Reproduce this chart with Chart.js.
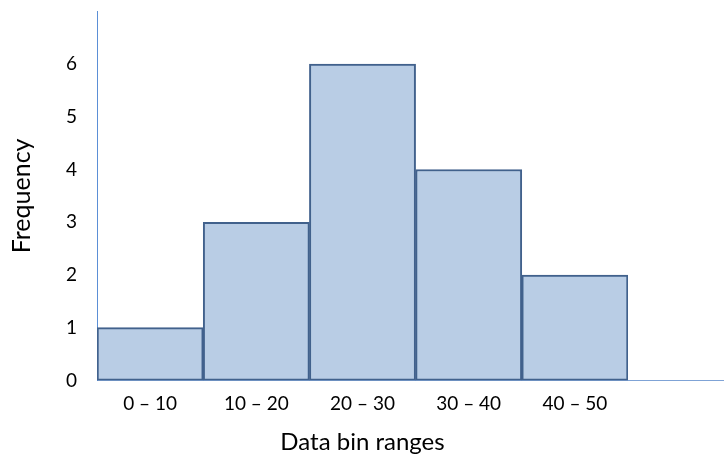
<!DOCTYPE html>
<html>
<head>
<meta charset="utf-8">
<script src="https://cdn.jsdelivr.net/npm/chart.js@4.4.1/dist/chart.umd.min.js"></script>
<style>
  html, body { margin: 0; padding: 0; background: #fff; overflow: hidden; }
  #wrap { width: 724px; height: 479px; margin-top: -20px; }
</style>
</head>
<body>
<div id="wrap"><canvas id="hist"></canvas></div>
<script>
// histogram data
const binLabels = ['0 – 10', '10 – 20', '20 – 30', '30 – 40', '40 – 50'];
const binCenters = [5, 15, 25, 35, 45];
const frequencies = [1, 3, 6, 4, 2];
const yTicks = [0, 1, 2, 3, 4, 5, 6];

const font = 'Lato, "Open Sans", sans-serif';
const axisBlue = '#7FA3D6';

// the horizontal axis runs on past the last bin, to the edge of the picture
const axisExtension = {
  id: 'axisExtension',
  afterDraw(chart) {
    const { ctx, chartArea, scales } = chart;
    const y = Math.round(scales.y.getPixelForValue(0)) + 0.5;
    ctx.save();
    ctx.strokeStyle = axisBlue;
    ctx.lineWidth = 1;
    ctx.beginPath();
    ctx.moveTo(chartArea.right, y);
    ctx.lineTo(chart.width, y);
    ctx.stroke();
    ctx.restore();
  },
};

const ctx = document.getElementById('hist').getContext('2d');
new Chart(ctx, {
  type: 'bar',
  data: {
    datasets: [
      {
        data: binCenters.map((x, i) => ({ x: x, y: frequencies[i] })),
        backgroundColor: '#B9CDE5',
        borderColor: '#41618C',
        borderWidth: 2,
        borderSkipped: false,
        barPercentage: 1,
        categoryPercentage: 1,
      },
    ],
  },
  options: {
    responsive: true,
    maintainAspectRatio: false,
    animation: false,
    layout: { padding: { top: 0, right: 96, left: 3, bottom: 0 } },
    plugins: { legend: { display: false }, tooltip: { enabled: false } },
    scales: {
      x: {
        type: 'linear',
        min: 0,
        max: 50,
        offset: false,
        grid: { display: false, drawTicks: false },
        border: { color: axisBlue, width: 1 },
        afterBuildTicks: (axis) => {
          axis.ticks = binCenters.map((v) => ({ value: v }));
        },
        ticks: {
          padding: 12,
          color: '#000',
          font: { family: font, size: 19 },
          callback: (v) => binLabels[binCenters.indexOf(v)] || '',
          maxRotation: 0,
        },
        title: {
          display: true,
          text: 'Data bin ranges',
          color: '#000',
          font: { family: font, size: 24 },
          padding: { top: 1, bottom: 2 },
        },
      },
      y: {
        min: 0,
        max: 7,
        grid: { display: false, drawTicks: false },
        border: { color: '#5B8FD6', width: 1 },
        afterBuildTicks: (axis) => {
          axis.ticks = yTicks.map((v) => ({ value: v }));
        },
        ticks: {
          padding: 20,
          color: '#000',
          font: { family: font, size: 19 },
        },
        title: {
          display: true,
          text: 'Frequency',
          color: '#000',
          font: { family: font, size: 25 },
          padding: { top: 4, bottom: 9 },
        },
      },
    },
  },
  plugins: [axisExtension],
});
</script>
</body>
</html>
